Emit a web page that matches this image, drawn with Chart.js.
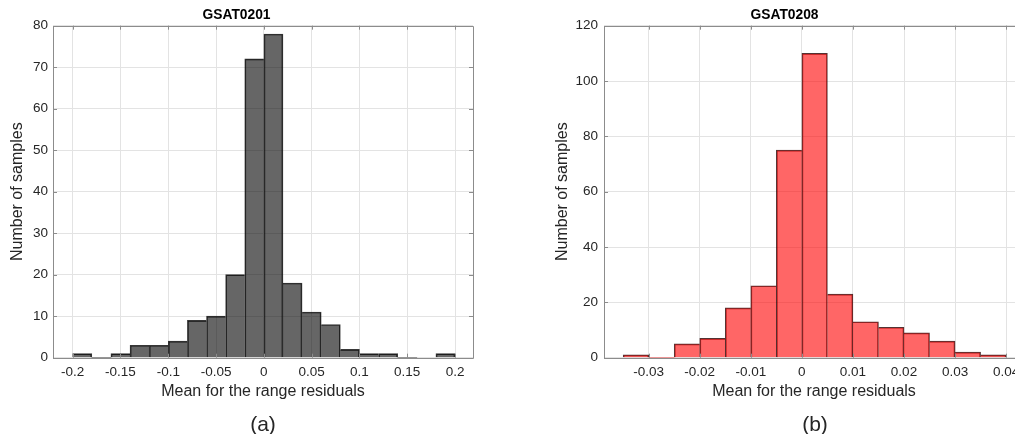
<!DOCTYPE html>
<html>
<head>
<meta charset="utf-8">
<script src="https://cdn.jsdelivr.net/npm/chart.js@4.4.1/dist/chart.umd.min.js"></script>
<style>
  html, body { margin: 0; padding: 0; background: #fff; }
  body { position: relative; width: 1015px; height: 434px; overflow: hidden; }
  .panel { position: absolute; top: 0; }
  #panelA { left: 0; }
  #panelB { left: 545px; }
  .cap {
    position: absolute; top: 411px; line-height: 26px;
    font-family: "Liberation Sans", Arial, Helvetica, sans-serif; font-size: 21px;
    color: #262626; transform: translateX(-50%); white-space: nowrap;
  }
</style>
</head>
<body>
<div class="panel" id="panelA"><canvas id="chartA" width="526" height="434"></canvas></div>
<div class="panel" id="panelB"><canvas id="chartB" width="538" height="434"></canvas></div>
<div class="cap" style="left:263px">(a)</div>
<div class="cap" style="left:815px">(b)</div>
<script>
// GSAT0201: histogram of mean range residuals (bin edges and counts)
const edgesA = [-0.2, -0.18, -0.16, -0.14, -0.12, -0.1, -0.08, -0.06, -0.04, -0.02, 0,
                0.02, 0.04, 0.06, 0.08, 0.1, 0.12, 0.14, 0.16, 0.18, 0.2];
const countsA = [1, 0, 1, 3, 3, 4, 9, 10, 20, 72, 78, 18, 11, 8, 2, 1, 1, 0, 0, 1];
const xTicksA = [-0.2, -0.15, -0.1, -0.05, 0, 0.05, 0.1, 0.15, 0.2];
const yTicksA = [0, 10, 20, 30, 40, 50, 60, 70, 80];

// GSAT0208: histogram of mean range residuals (bin edges and counts)
const edgesB = [-0.035, -0.03, -0.025, -0.02, -0.015, -0.01, -0.005, 0,
                0.005, 0.01, 0.015, 0.02, 0.025, 0.03, 0.035, 0.04];
const countsB = [1, 0, 5, 7, 18, 26, 75, 110, 23, 13, 11, 9, 6, 2, 1];
const xTicksB = [-0.03, -0.02, -0.01, 0, 0.01, 0.02, 0.03, 0.04];
const yTicksB = [0, 20, 40, 60, 80, 100, 120];

const FONT = '"Liberation Sans", Arial, Helvetica, sans-serif';
const TEXT = '#262626';
const FRAME = '#8c8c8c';
const GRID = '#e3e3e3';
const TICK_SIZE = 13.5;
const LABEL_SIZE = 16;

Chart.defaults.font.family = FONT;
Chart.defaults.color = TEXT;

// Bin centres paired with counts for a linear x axis
function binPoints(edges, counts) {
  return counts.map((c, i) => ({ x: (edges[i] + edges[i + 1]) / 2, y: c }));
}

// One shared edge line between neighbouring bins: the taller bin owns it
function edgeWidths(ctx) {
  const d = ctx.dataset.data;
  const i = ctx.dataIndex;
  const cur = d[i].y;
  const prev = i > 0 ? d[i - 1].y : undefined;
  const next = i < d.length - 1 ? d[i + 1].y : undefined;
  return {
    top: 1,
    bottom: 0,
    left: (prev === undefined || prev <= cur) ? 1 : 0,
    right: (next === undefined || next < cur) ? 1 : 0
  };
}

// Box around the plot area with inward tick marks on all four sides
const framePlugin = {
  id: 'frame',
  afterDatasetsDraw(chart) {
    const { ctx, chartArea: a, scales } = chart;
    const len = 4;
    ctx.save();
    ctx.strokeStyle = FRAME;
    ctx.lineWidth = 1;
    ctx.beginPath();
    ctx.rect(Math.round(a.left) + 0.5, Math.round(a.top) + 0.5,
             Math.round(a.right - a.left), Math.round(a.bottom - a.top));
    scales.x.ticks.forEach(t => {
      const px = Math.round(scales.x.getPixelForValue(t.value)) + 0.5;
      ctx.moveTo(px, a.bottom); ctx.lineTo(px, a.bottom - len);
      ctx.moveTo(px, a.top); ctx.lineTo(px, a.top + len);
    });
    scales.y.ticks.forEach(t => {
      const py = Math.round(scales.y.getPixelForValue(t.value)) + 0.5;
      ctx.moveTo(a.left, py); ctx.lineTo(a.left + len, py);
      ctx.moveTo(a.right, py); ctx.lineTo(a.right - len, py);
    });
    ctx.stroke();
    ctx.restore();
  }
};

function makeHistogram(canvasId, cfg) {
  return new Chart(document.getElementById(canvasId), {
    type: 'bar',
    data: {
      datasets: [{
        data: binPoints(cfg.edges, cfg.counts),
        backgroundColor: cfg.fill,
        borderColor: cfg.edge,
        borderWidth: edgeWidths,
        borderSkipped: false,
        barPercentage: 1,
        categoryPercentage: 1,
        grouped: false
      }]
    },
    options: {
      responsive: false,
      animation: false,
      events: [],
      layout: { padding: { left: 0, right: cfg.padRight, top: 0, bottom: 31.3 } },
      plugins: {
        legend: { display: false },
        tooltip: { enabled: false },
        title: {
          display: true,
          text: cfg.title,
          color: '#000',
          font: { size: 13.8, weight: 'bold', family: FONT },
          padding: { top: 6.7, bottom: 2.4 }
        }
      },
      scales: {
        x: {
          type: 'linear',
          min: cfg.xMin,
          max: cfg.xMax,
          offset: false,
          afterBuildTicks: s => { s.ticks = cfg.xTicks.map(v => ({ value: v })); },
          afterFit: s => { s.height = 45; },
          ticks: {
            autoSkip: false,
            maxRotation: 0,
            padding: 6.5,
            font: { size: TICK_SIZE },
            color: TEXT,
            callback: v => String(v)
          },
          grid: { color: GRID, lineWidth: 1, drawTicks: false, offset: false },
          border: { display: false },
          title: {
            display: true,
            text: 'Mean for the range residuals',
            font: { size: LABEL_SIZE },
            color: TEXT,
            padding: { top: 0, bottom: 1.4 }
          }
        },
        y: {
          type: 'linear',
          min: 0,
          max: cfg.yTicks[cfg.yTicks.length - 1],
          afterBuildTicks: s => { s.ticks = cfg.yTicks.map(v => ({ value: v })); },
          afterFit: s => { s.width = cfg.yWidth; },
          ticks: { padding: cfg.yPad, font: { size: TICK_SIZE }, color: TEXT },
          grid: { color: GRID, lineWidth: 1, drawTicks: false },
          border: { display: false },
          title: {
            display: true,
            text: 'Number of samples',
            font: { size: LABEL_SIZE },
            color: TEXT,
            padding: { top: 7.9, bottom: 0 }
          }
        }
      }
    },
    plugins: [framePlugin]
  });
}

makeHistogram('chartA', {
  edges: edgesA, counts: countsA, xTicks: xTicksA, yTicks: yTicksA,
  title: 'GSAT0201',
  xMin: -0.2206, xMax: 0.2188,
  yWidth: 53, yPad: 5, padRight: 53,
  fill: 'rgba(0,0,0,0.6)', edge: 'rgba(20,20,20,0.85)'
});

makeHistogram('chartB', {
  edges: edgesB, counts: countsB, xTicks: xTicksB, yTicks: yTicksB,
  title: 'GSAT0208',
  xMin: -0.03875, xMax: 0.0435,
  yWidth: 59, yPad: 6, padRight: 59,
  fill: 'rgba(255,0,0,0.6)', edge: 'rgba(40,0,0,0.8)'
});
</script>
</body>
</html>
